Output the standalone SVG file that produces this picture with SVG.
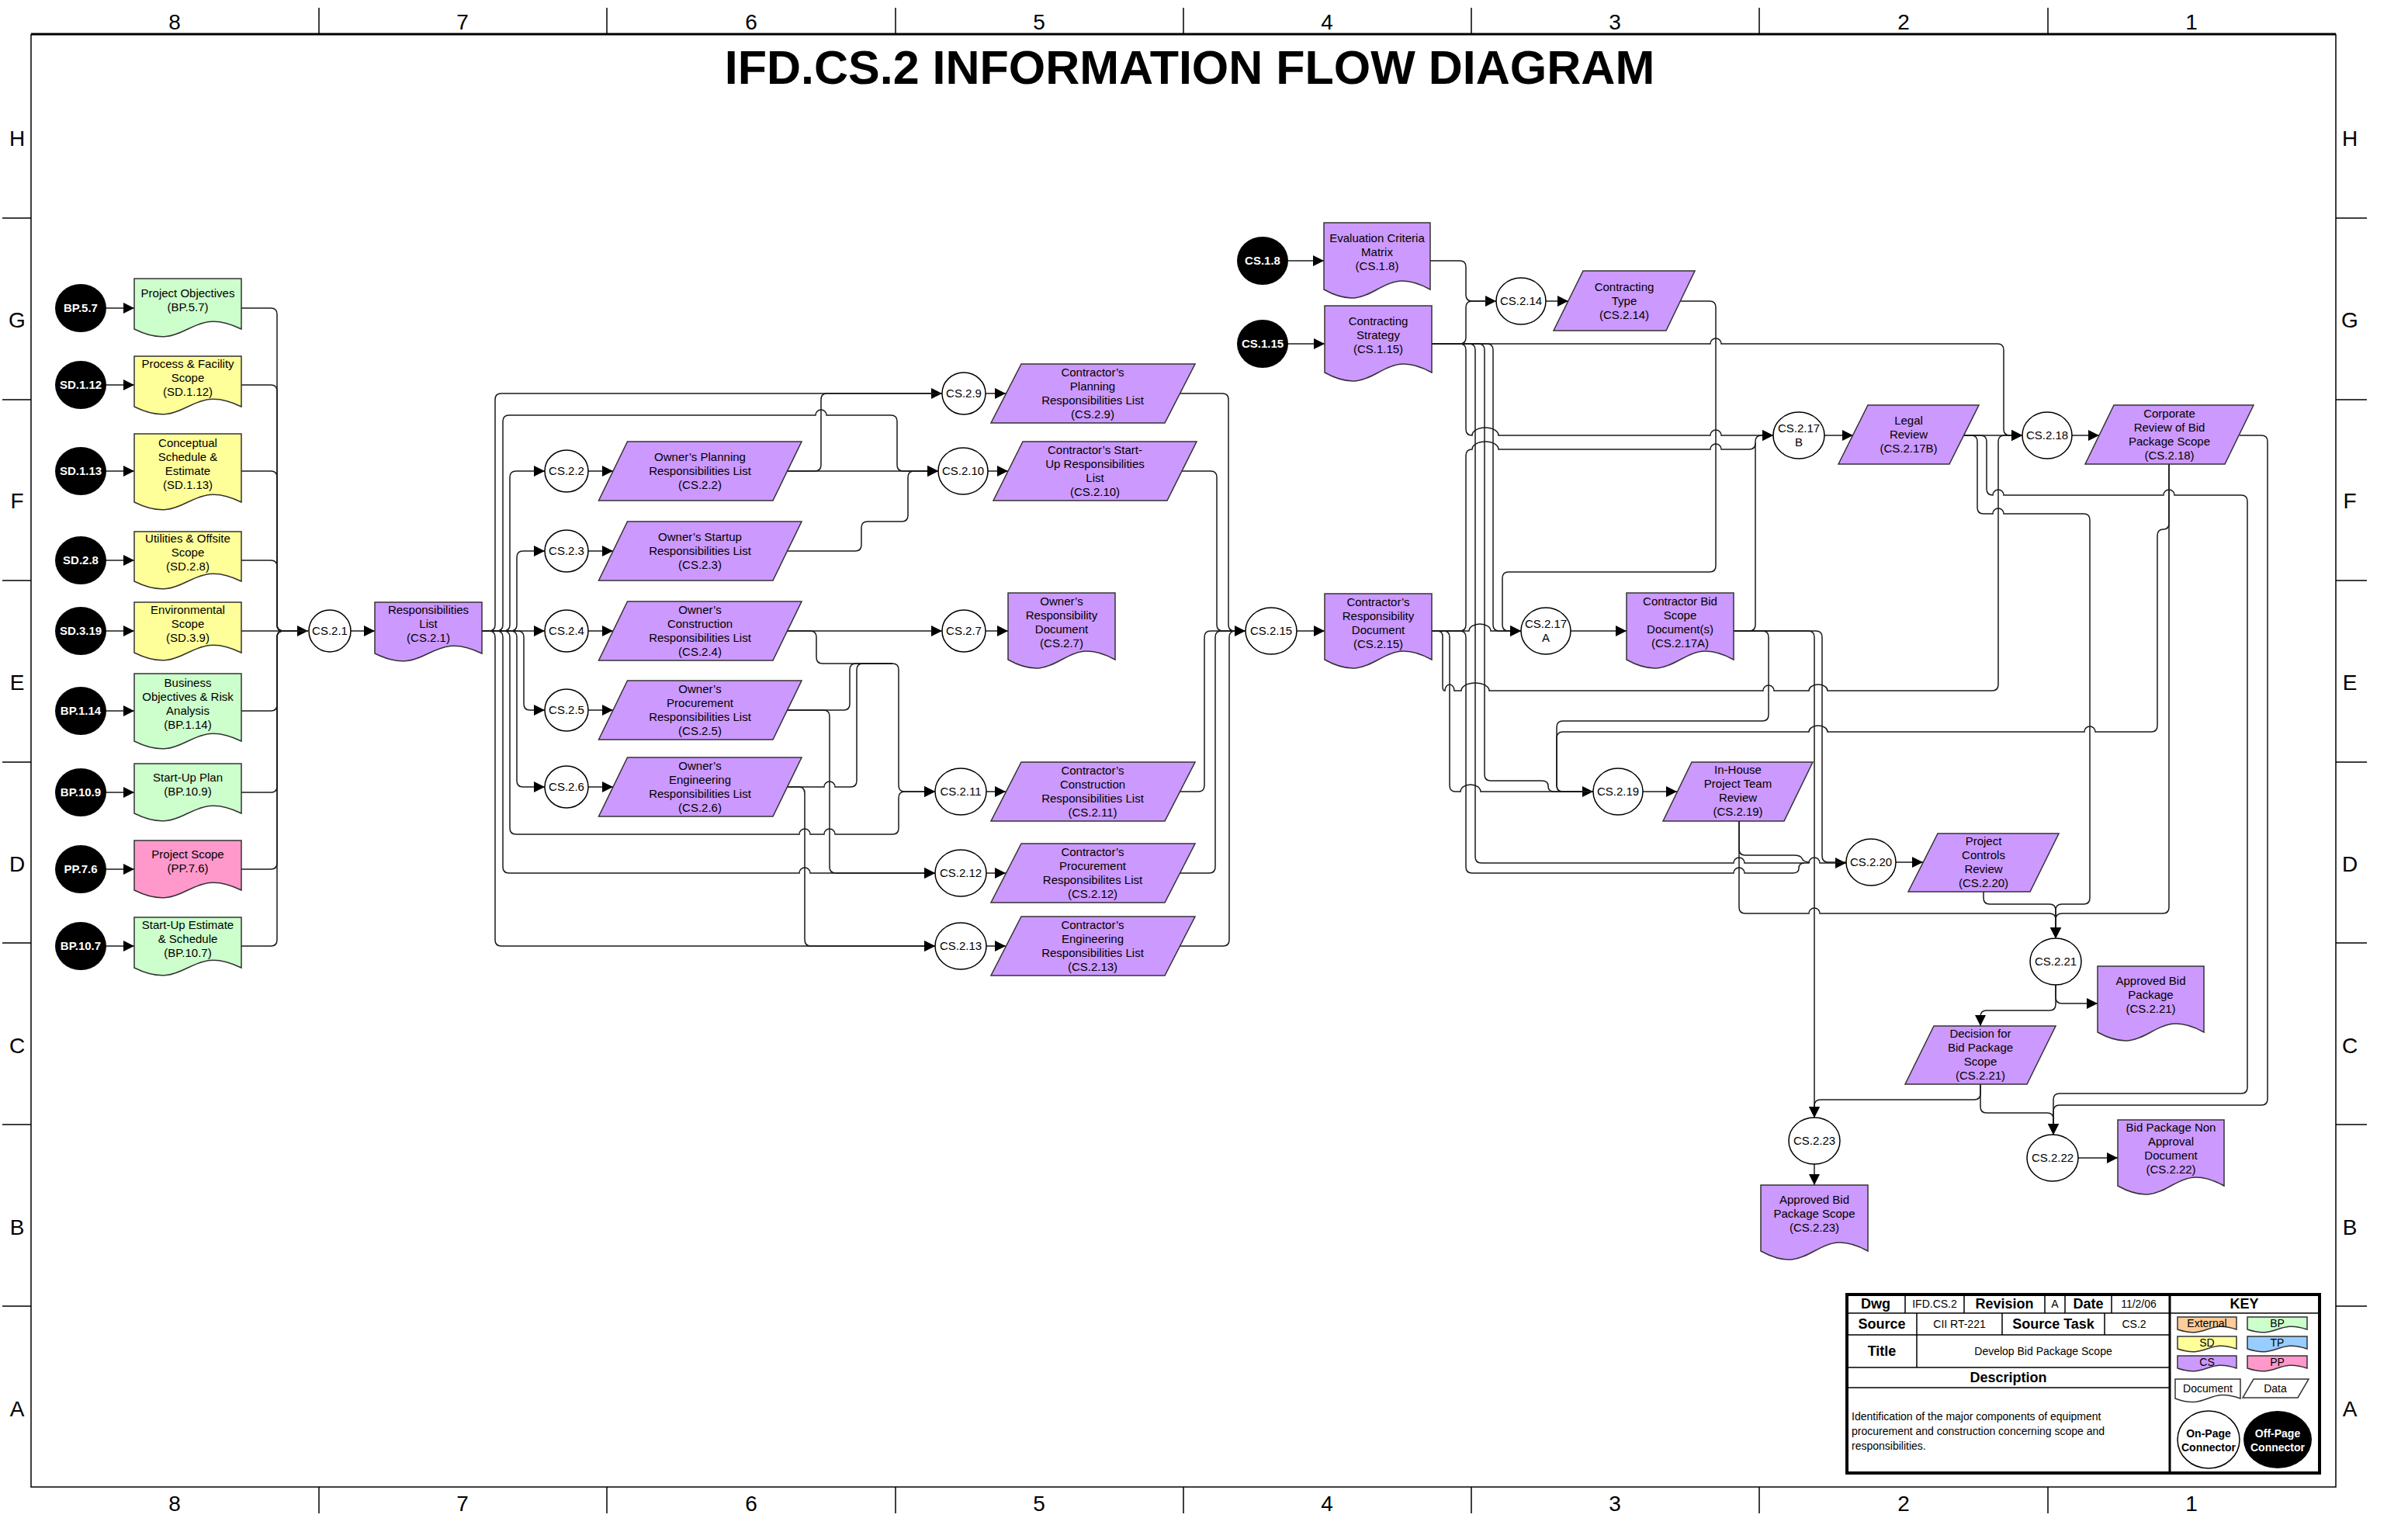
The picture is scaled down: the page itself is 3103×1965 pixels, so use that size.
<svg xmlns="http://www.w3.org/2000/svg" width="3103" height="1965" viewBox="0 0 3103 1965">
<defs>
<marker id="ah" viewBox="0 0 14 14" refX="14" refY="7" markerWidth="14" markerHeight="14" markerUnits="userSpaceOnUse" orient="auto"><path d="M0,0L14,7L0,14Z" fill="#000"/></marker>
<style>
.t{font-family:'Liberation Sans',Arial,sans-serif;font-size:15px;text-anchor:middle;fill:#000}
.tb{font-weight:bold}
.tw{fill:#fff}
.tl{text-anchor:start}
.cn{fill:#fff;stroke:#000;stroke-width:1.5}
.off{fill:#000}
.sh{stroke:#333;stroke-width:1.5}
.gr{fill:#ccffcc}.ye{fill:#ffff99}.pk{fill:#ff99cc}.pu{fill:#cc99ff}.or{fill:#ffcc99}.bl{fill:#99ccff}.wh{fill:#fff}
.ln path{fill:none;stroke:#1a1a1a;stroke-width:1.5}
.ar{marker-end:url(#ah)}
.fr{fill:none;stroke:#000;stroke-width:1.5}
.lab{font-family:'Liberation Sans',Arial,sans-serif;font-size:28px;text-anchor:middle}
</style>
</defs>
<rect width="3103" height="1965" fill="#fff"/>

<g id="frame">
<path class="fr" d="M40,44V1916H3010V44"/>
<path d="M40,44H3010" stroke="#000" stroke-width="3"/>
<path class="fr" d="M411,10V44M782,10V44M1154,10V44M1525,10V44M1896,10V44M2267,10V44M2639,10V44M411,1916V1950M782,1916V1950M1154,1916V1950M1525,1916V1950M1896,1916V1950M2267,1916V1950M2639,1916V1950M3,281H40M3,515H40M3,748H40M3,982H40M3,1215H40M3,1449H40M3,1683H40M3010,281H3050M3010,515H3050M3010,748H3050M3010,982H3050M3010,1215H3050M3010,1449H3050M3010,1683H3050"/>
<text class="lab" x="225" y="38">8</text><text class="lab" x="596" y="38">7</text><text class="lab" x="968" y="38">6</text><text class="lab" x="1339" y="38">5</text><text class="lab" x="1710" y="38">4</text><text class="lab" x="2081" y="38">3</text><text class="lab" x="2453" y="38">2</text><text class="lab" x="2824" y="38">1</text>
<text class="lab" x="225" y="1947">8</text><text class="lab" x="596" y="1947">7</text><text class="lab" x="968" y="1947">6</text><text class="lab" x="1339" y="1947">5</text><text class="lab" x="1710" y="1947">4</text><text class="lab" x="2081" y="1947">3</text><text class="lab" x="2453" y="1947">2</text><text class="lab" x="2824" y="1947">1</text>
<text class="lab" x="22" y="188">H</text><text class="lab" x="22" y="422">G</text><text class="lab" x="22" y="655">F</text><text class="lab" x="22" y="889">E</text><text class="lab" x="22" y="1123">D</text><text class="lab" x="22" y="1357">C</text><text class="lab" x="22" y="1591">B</text><text class="lab" x="22" y="1825">A</text>
<text class="lab" x="3028" y="188">H</text><text class="lab" x="3028" y="422">G</text><text class="lab" x="3028" y="655">F</text><text class="lab" x="3028" y="889">E</text><text class="lab" x="3028" y="1123">D</text><text class="lab" x="3028" y="1357">C</text><text class="lab" x="3028" y="1591">B</text><text class="lab" x="3028" y="1825">A</text>
<text x="1533" y="108" font-family="'Liberation Sans',Arial,sans-serif" font-size="61" font-weight="bold" text-anchor="middle">IFD.CS.2 INFORMATION FLOW DIAGRAM</text>
</g>

<g id="connectors" class="ln">
<path class="ar" d="M137,397H173"/><path class="ar" d="M137,496H173"/><path class="ar" d="M137,607H173"/><path class="ar" d="M137,722H173"/><path class="ar" d="M137,813H173"/><path class="ar" d="M137,916H173"/><path class="ar" d="M137,1021H173"/><path class="ar" d="M137,1120H173"/><path class="ar" d="M137,1219H173"/>
<path d="M311,397H349Q357,397 357,405V805Q357,813 365,813H397"/>
<path d="M311,496H349Q357,496 357,504V805Q357,813 365,813H397"/>
<path d="M311,607H349Q357,607 357,615V805Q357,813 365,813H397"/>
<path d="M311,722H349Q357,722 357,730V805Q357,813 365,813H397"/>
<path class="ar" d="M311,813H397"/>
<path d="M311,916H349Q357,916 357,908V821Q357,813 365,813H397"/>
<path d="M311,1021H349Q357,1021 357,1013V821Q357,813 365,813H397"/>
<path d="M311,1120H349Q357,1120 357,1112V821Q357,813 365,813H397"/>
<path d="M311,1219H349Q357,1219 357,1211V821Q357,813 365,813H397"/>
<path class="ar" d="M452,813H483"/>
<path class="ar" d="M621,813H630Q638,813 638,805V515Q638,507 646,507H1214"/>
<path class="ar" d="M621,813H640Q648,813 648,805V543Q648,535 656,535H1051A7,7 0 0 1 1065,535H1148Q1156,535 1156,543V599Q1156,607 1164,607H1209"/>
<path class="ar" d="M621,813H649Q657,813 657,805V615Q657,607 665,607H702"/>
<path class="ar" d="M621,813H658Q666,813 666,805V718Q666,710 674,710H702"/>
<path class="ar" d="M621,813H702"/>
<path class="ar" d="M621,813H667Q675,813 675,821V907Q675,915 683,915H702"/>
<path class="ar" d="M621,813H658Q666,813 666,821V1006Q666,1014 674,1014H702"/>
<path class="ar" d="M621,813H649Q657,813 657,821V1067Q657,1075 665,1075H1030A7,7 0 0 1 1044,1075H1062A7,7 0 0 1 1076,1075H1150Q1158,1075 1158,1067V1028Q1158,1020 1166,1020H1205"/>
<path class="ar" d="M621,813H640Q648,813 648,821V1117Q648,1125 656,1125H1030A7,7 0 0 1 1044,1125H1205"/>
<path class="ar" d="M621,813H630Q638,813 638,821V1211Q638,1219 646,1219H1205"/>
<path class="ar" d="M758,607H790"/><path class="ar" d="M758,710H790"/><path class="ar" d="M758,813H790"/><path class="ar" d="M758,915H790"/><path class="ar" d="M758,1014H790"/>
<path d="M1014,607H1050Q1058,607 1058,599V515Q1058,507 1066,507H1214"/>
<path class="ar" d="M1014,607H1209"/>
<path class="ar" d="M1014,710H1102Q1110,710 1110,702V680Q1110,672 1118,672H1162Q1170,672 1170,664V615Q1170,607 1178,607H1209"/>
<path class="ar" d="M1014,813H1214"/>
<path class="ar" d="M1014,813H1044Q1052,813 1052,821V847Q1052,855 1060,855H1150Q1158,855 1158,863V1012Q1158,1020 1166,1020H1205"/>
<path class="ar" d="M1014,915H1061Q1069,915 1069,923V1117Q1069,1125 1077,1125H1205"/>
<path d="M1014,915H1087Q1095,915 1095,907V863Q1095,855 1103,855H1150"/>
<path class="ar" d="M1014,1014H1029Q1037,1014 1037,1022V1211Q1037,1219 1045,1219H1205"/>
<path d="M1014,1014H1062A7,7 0 0 1 1076,1014H1096Q1104,1014 1104,1006V863Q1104,855 1112,855H1150"/>
<path class="ar" d="M1270,507H1296"/><path class="ar" d="M1273,607H1299"/><path class="ar" d="M1270,813H1299"/><path class="ar" d="M1271,1020H1296"/><path class="ar" d="M1271,1125H1296"/><path class="ar" d="M1271,1219H1296"/>
<path d="M1520,507H1575Q1583,507 1583,515V805Q1583,813 1591,813H1605"/>
<path d="M1523,607H1560Q1568,607 1568,615V805Q1568,813 1576,813H1605"/>
<path d="M1520,1020H1544Q1552,1020 1552,1012V821Q1552,813 1560,813H1605"/>
<path d="M1520,1125H1558Q1566,1125 1566,1117V821Q1566,813 1574,813H1605"/>
<path class="ar" d="M1520,1219H1576Q1584,1219 1584,1211V821Q1584,813 1592,813H1605"/>
<path class="ar" d="M1671,813H1707"/>
<path class="ar" d="M1660,336H1706"/>
<path class="ar" d="M1660,443H1707"/>
<path class="ar" d="M1843,336H1881Q1889,336 1889,344V380Q1889,388 1897,388H1928"/>
<path d="M1845,443H1881Q1889,443 1889,435V396Q1889,388 1897,388H1928"/>
<path class="ar" d="M1992,388H2021"/>
<path class="ar" d="M2165,388H2203Q2211,388 2211,396V729Q2211,737 2203,737H1944Q1936,737 1936,745V805Q1936,813 1944,813H1960"/>
<path d="M1845,443H1916Q1924,443 1924,451V805Q1924,813 1932,813H1960"/>
<path class="ar" d="M1845,443H1905Q1913,443 1913,451V998Q1913,1006 1921,1006H1987Q1995,1006 1995,1013Q1995,1020 2003,1020H2053"/>
<path class="ar" d="M1845,443H1881Q1889,443 1889,451V553Q1889,561 1897,561A17,10 0 0 1 1931,561H2204A7,7 0 0 1 2218,561H2285"/>
<path class="ar" d="M1845,443H2204A7,7 0 0 1 2218,443H2574Q2582,443 2582,451V553Q2582,561 2590,561H2606"/>
<path class="ar" d="M1845,443H1893Q1901,443 1901,451V1104Q1901,1112 1909,1112H2234A7,7 0 0 1 2248,1112H2331A7,7 0 0 1 2345,1112H2379"/>
<path class="ar" d="M1845,813H1893A14,9 0 0 1 1921,813H1960"/>
<path d="M1845,813H1881Q1889,813 1889,805V587Q1889,579 1897,579A17,10 0 0 1 1931,579H2204A7,7 0 0 1 2218,579H2254Q2262,579 2262,571"/>
<path d="M1845,813H1881Q1889,813 1889,821V1117Q1889,1125 1897,1125H2234A7,7 0 0 1 2248,1125H2310Q2318,1125 2318,1119Q2318,1112 2325,1112"/>
<path d="M1845,813H1860Q1868,813 1868,821V1012Q1868,1020 1876,1020H1882A13,9 0 0 1 1908,1020H2053"/>
<path class="ar" d="M1845,813H1852Q1859,813 1859,820V885Q1859,890 1862,890A6,8 0 0 1 1874,890H1883A18,10 0 0 1 1919,890H2272A7,7 0 0 1 2286,890H2331A12,8 0 0 1 2355,890H2567Q2575,890 2575,882V569Q2575,561 2583,561H2606"/>
<path class="ar" d="M2024,813H2096"/>
<path class="ar" d="M2234,813H2254Q2262,813 2262,805V569Q2262,561 2270,561H2285"/>
<path d="M2234,813H2271Q2279,813 2279,821V921Q2279,929 2271,929H2014Q2006,929 2006,937V1012Q2006,1020 2014,1020H2053"/>
<path class="ar" d="M2234,813H2330Q2338,813 2338,821V1440"/>
<path d="M2234,813H2340Q2348,813 2348,821V1103Q2348,1111 2356,1111H2379"/>
<path class="ar" d="M2351,561H2388"/>
<path class="ar" d="M2531,561H2606"/>
<path class="ar" d="M2531,561H2552Q2560,561 2560,569V630Q2560,638 2568,638A7,7 0 0 1 2582,638H2788A7,7 0 0 1 2802,638H2888Q2896,638 2896,646V1401Q2896,1409 2888,1409H2654Q2646,1409 2646,1417V1462"/>
<path class="ar" d="M2531,561H2540Q2548,561 2548,569V654Q2548,662 2556,662H2568A7,7 0 0 1 2582,662H2685Q2693,662 2693,670V1157Q2693,1165 2685,1165H2657Q2649,1165 2649,1173V1209"/>
<path class="ar" d="M2670,561H2705"/>
<path class="ar" d="M2886,561H2914Q2922,561 2922,569V1416Q2922,1424 2914,1424H2654Q2646,1424 2646,1432V1462"/>
<path class="ar" d="M2795,598V1169Q2795,1177 2787,1177H2657Q2649,1177 2649,1185V1209"/>
<path d="M2795,598V674Q2795,682 2788,682Q2780,682 2780,690V935Q2780,943 2772,943H2700A7,7 0 0 0 2686,943H2355A12,8 0 0 0 2331,943H2014Q2006,943 2006,951V1012Q2006,1020 2014,1020H2053"/>
<path class="ar" d="M2117,1020H2161"/>
<path d="M2241,1058V1094Q2241,1102 2249,1102H2312Q2320,1102 2322,1106Q2324,1111 2332,1111"/>
<path class="ar" d="M2241,1058V1169Q2241,1177 2249,1177H2331A7,7 0 0 1 2345,1177H2641Q2649,1177 2649,1185V1209"/>
<path class="ar" d="M2443,1111H2478"/>
<path class="ar" d="M2556,1149V1157Q2556,1165 2564,1165H2641Q2649,1165 2649,1173V1209"/>
<path class="ar" d="M2649,1269V1285Q2649,1293 2657,1293H2703"/>
<path class="ar" d="M2649,1269V1294Q2649,1302 2641,1302H2560Q2552,1302 2552,1310V1322"/>
<path class="ar" d="M2552,1397V1409Q2552,1417 2544,1417H2346Q2338,1417 2338,1425V1440"/>
<path class="ar" d="M2552,1397V1426Q2552,1434 2560,1434H2638Q2646,1434 2646,1442V1462"/>
<path class="ar" d="M2338,1500V1527"/>
<path class="ar" d="M2678,1492H2729"/>
</g>

<g id="nodes">
<g id="off-BP.5.7"><ellipse class="off" cx="104" cy="397" rx="33" ry="31"/><text class="t tb tw" x="104" y="402">BP.5.7</text></g>
<g id="doc-BP.5.7"><path class="sh gr" d="M173,359H311V424C242,390 242,458 173,424Z"/><text class="t"><tspan x="242" y="383">Project Objectives</tspan><tspan x="242" y="401">(BP.5.7)</tspan></text></g>
<g id="off-SD.1.12"><ellipse class="off" cx="104" cy="496" rx="33" ry="31"/><text class="t tb tw" x="104" y="501">SD.1.12</text></g>
<g id="doc-SD.1.12"><path class="sh ye" d="M173,459H311V524C242,490 242,558 173,524Z"/><text class="t"><tspan x="242" y="474">Process &amp; Facility</tspan><tspan x="242" y="492">Scope</tspan><tspan x="242" y="510">(SD.1.12)</tspan></text></g>
<g id="off-SD.1.13"><ellipse class="off" cx="104" cy="607" rx="33" ry="31"/><text class="t tb tw" x="104" y="612">SD.1.13</text></g>
<g id="doc-SD.1.13"><path class="sh ye" d="M173,559H311V647C242,613 242,681 173,647Z"/><text class="t"><tspan x="242" y="576">Conceptual</tspan><tspan x="242" y="594">Schedule &amp;</tspan><tspan x="242" y="612">Estimate</tspan><tspan x="242" y="630">(SD.1.13)</tspan></text></g>
<g id="off-SD.2.8"><ellipse class="off" cx="104" cy="722" rx="33" ry="31"/><text class="t tb tw" x="104" y="727">SD.2.8</text></g>
<g id="doc-SD.2.8"><path class="sh ye" d="M173,685H311V749C242,715 242,783 173,749Z"/><text class="t"><tspan x="242" y="699">Utilities &amp; Offsite</tspan><tspan x="242" y="717">Scope</tspan><tspan x="242" y="735">(SD.2.8)</tspan></text></g>
<g id="off-SD.3.19"><ellipse class="off" cx="104" cy="813" rx="33" ry="31"/><text class="t tb tw" x="104" y="818">SD.3.19</text></g>
<g id="doc-SD.3.9"><path class="sh ye" d="M173,776H311V841C242,807 242,875 173,841Z"/><text class="t"><tspan x="242" y="791">Environmental</tspan><tspan x="242" y="809">Scope</tspan><tspan x="242" y="827">(SD.3.9)</tspan></text></g>
<g id="off-BP.1.14"><ellipse class="off" cx="104" cy="916" rx="33" ry="31"/><text class="t tb tw" x="104" y="921">BP.1.14</text></g>
<g id="doc-BP.1.14"><path class="sh gr" d="M173,868H311V955C242,921 242,989 173,955Z"/><text class="t"><tspan x="242" y="885">Business</tspan><tspan x="242" y="903">Objectives &amp; Risk</tspan><tspan x="242" y="921">Analysis</tspan><tspan x="242" y="939">(BP.1.14)</tspan></text></g>
<g id="off-BP.10.9"><ellipse class="off" cx="104" cy="1021" rx="33" ry="31"/><text class="t tb tw" x="104" y="1026">BP.10.9</text></g>
<g id="doc-BP.10.9"><path class="sh gr" d="M173,984H311V1048C242,1014 242,1082 173,1048Z"/><text class="t"><tspan x="242" y="1007">Start-Up Plan</tspan><tspan x="242" y="1025">(BP.10.9)</tspan></text></g>
<g id="off-PP.7.6"><ellipse class="off" cx="104" cy="1120" rx="33" ry="31"/><text class="t tb tw" x="104" y="1125">PP.7.6</text></g>
<g id="doc-PP.7.6"><path class="sh pk" d="M173,1083H311V1147C242,1113 242,1181 173,1147Z"/><text class="t"><tspan x="242" y="1106">Project Scope</tspan><tspan x="242" y="1124">(PP.7.6)</tspan></text></g>
<g id="off-BP.10.7"><ellipse class="off" cx="104" cy="1219" rx="33" ry="31"/><text class="t tb tw" x="104" y="1224">BP.10.7</text></g>
<g id="doc-BP.10.7"><path class="sh gr" d="M173,1182H311V1247C242,1213 242,1281 173,1247Z"/><text class="t"><tspan x="242" y="1197">Start-Up Estimate</tspan><tspan x="242" y="1215">&amp; Schedule</tspan><tspan x="242" y="1233">(BP.10.7)</tspan></text></g>

<g id="c-CS.2.1"><ellipse class="cn" cx="425" cy="813" rx="27" ry="27"/><text class="t" x="425" y="818">CS.2.1</text></g>
<g id="doc-CS.2.1"><path class="sh pu" d="M483,776H621V842C552,808 552,876 483,842Z"/><text class="t"><tspan x="552" y="791">Responsibilities</tspan><tspan x="552" y="809">List</tspan><tspan x="552" y="827">(CS.2.1)</tspan></text></g>

<g id="c-CS.2.2"><ellipse class="cn" cx="730" cy="607" rx="28" ry="27"/><text class="t" x="730" y="612">CS.2.2</text></g>
<g id="c-CS.2.3"><ellipse class="cn" cx="730" cy="710" rx="28" ry="27"/><text class="t" x="730" y="715">CS.2.3</text></g>
<g id="c-CS.2.4"><ellipse class="cn" cx="730" cy="813" rx="28" ry="27"/><text class="t" x="730" y="818">CS.2.4</text></g>
<g id="c-CS.2.5"><ellipse class="cn" cx="730" cy="915" rx="28" ry="27"/><text class="t" x="730" y="920">CS.2.5</text></g>
<g id="c-CS.2.6"><ellipse class="cn" cx="730" cy="1014" rx="28" ry="27"/><text class="t" x="730" y="1019">CS.2.6</text></g>
<g id="d-CS.2.2"><path class="sh pu" d="M808.5,569H1033L996,645H771.5Z"/><text class="t"><tspan x="902" y="594">Owner’s Planning</tspan><tspan x="902" y="612">Responsibilities List</tspan><tspan x="902" y="630">(CS.2.2)</tspan></text></g>
<g id="d-CS.2.3"><path class="sh pu" d="M808.5,672H1033L996,748H771.5Z"/><text class="t"><tspan x="902" y="697">Owner’s Startup</tspan><tspan x="902" y="715">Responsibilities List</tspan><tspan x="902" y="733">(CS.2.3)</tspan></text></g>
<g id="d-CS.2.4"><path class="sh pu" d="M808.5,775H1033L996,851H771.5Z"/><text class="t"><tspan x="902" y="791">Owner’s</tspan><tspan x="902" y="809">Construction</tspan><tspan x="902" y="827">Responsibilities List</tspan><tspan x="902" y="845">(CS.2.4)</tspan></text></g>
<g id="d-CS.2.5"><path class="sh pu" d="M808.5,877H1033L996,953H771.5Z"/><text class="t"><tspan x="902" y="893">Owner’s</tspan><tspan x="902" y="911">Procurement</tspan><tspan x="902" y="929">Responsibilities List</tspan><tspan x="902" y="947">(CS.2.5)</tspan></text></g>
<g id="d-CS.2.6"><path class="sh pu" d="M808.5,976H1033L996,1052H771.5Z"/><text class="t"><tspan x="902" y="992">Owner’s</tspan><tspan x="902" y="1010">Engineering</tspan><tspan x="902" y="1028">Responsibilities List</tspan><tspan x="902" y="1046">(CS.2.6)</tspan></text></g>

<g id="c-CS.2.9"><ellipse class="cn" cx="1242" cy="507" rx="28" ry="27"/><text class="t" x="1242" y="512">CS.2.9</text></g>
<g id="c-CS.2.10"><ellipse class="cn" cx="1241" cy="607" rx="32" ry="30"/><text class="t" x="1241" y="612">CS.2.10</text></g>
<g id="c-CS.2.7"><ellipse class="cn" cx="1242" cy="813" rx="28" ry="27"/><text class="t" x="1242" y="818">CS.2.7</text></g>
<g id="c-CS.2.11"><ellipse class="cn" cx="1238" cy="1020" rx="33" ry="30"/><text class="t" x="1238" y="1025">CS.2.11</text></g>
<g id="c-CS.2.12"><ellipse class="cn" cx="1238" cy="1125" rx="33" ry="30"/><text class="t" x="1238" y="1130">CS.2.12</text></g>
<g id="c-CS.2.13"><ellipse class="cn" cx="1238" cy="1219" rx="33" ry="30"/><text class="t" x="1238" y="1224">CS.2.13</text></g>
<g id="d-CS.2.9"><path class="sh pu" d="M1316,469H1540L1501,545H1277Z"/><text class="t"><tspan x="1408" y="485">Contractor’s</tspan><tspan x="1408" y="503">Planning</tspan><tspan x="1408" y="521">Responsibilities List</tspan><tspan x="1408" y="539">(CS.2.9)</tspan></text></g>
<g id="d-CS.2.10"><path class="sh pu" d="M1318,569H1542L1504,645H1280Z"/><text class="t"><tspan x="1411" y="585">Contractor’s Start-</tspan><tspan x="1411" y="603">Up Responsibilities</tspan><tspan x="1411" y="621">List</tspan><tspan x="1411" y="639">(CS.2.10)</tspan></text></g>
<g id="doc-CS.2.7"><path class="sh pu" d="M1299,764H1437V850C1368,812 1368,888 1299,850Z"/><text class="t"><tspan x="1368" y="780">Owner’s</tspan><tspan x="1368" y="798">Responsibility</tspan><tspan x="1368" y="816">Document</tspan><tspan x="1368" y="834">(CS.2.7)</tspan></text></g>
<g id="d-CS.2.11"><path class="sh pu" d="M1316,982H1540L1501,1058H1277Z"/><text class="t"><tspan x="1408" y="998">Contractor’s</tspan><tspan x="1408" y="1016">Construction</tspan><tspan x="1408" y="1034">Responsibilities List</tspan><tspan x="1408" y="1052">(CS.2.11)</tspan></text></g>
<g id="d-CS.2.12"><path class="sh pu" d="M1316,1087H1540L1501,1163H1277Z"/><text class="t"><tspan x="1408" y="1103">Contractor’s</tspan><tspan x="1408" y="1121">Procurement</tspan><tspan x="1408" y="1139">Responsibilites List</tspan><tspan x="1408" y="1157">(CS.2.12)</tspan></text></g>
<g id="d-CS.2.13"><path class="sh pu" d="M1316,1181H1540L1501,1257H1277Z"/><text class="t"><tspan x="1408" y="1197">Contractor’s</tspan><tspan x="1408" y="1215">Engineering</tspan><tspan x="1408" y="1233">Responsibilities List</tspan><tspan x="1408" y="1251">(CS.2.13)</tspan></text></g>

<g id="c-CS.2.15"><ellipse class="cn" cx="1638" cy="813" rx="33" ry="30"/><text class="t" x="1638" y="818">CS.2.15</text></g>
<g id="doc-CS.2.15"><path class="sh pu" d="M1707,765H1845V850C1776,812 1776,888 1707,850Z"/><text class="t"><tspan x="1776" y="781">Contractor’s</tspan><tspan x="1776" y="799">Responsibility</tspan><tspan x="1776" y="817">Document</tspan><tspan x="1776" y="835">(CS.2.15)</tspan></text></g>

<g id="off-CS.1.8"><ellipse class="off" cx="1627" cy="336" rx="33" ry="31"/><text class="t tb tw" x="1627" y="341">CS.1.8</text></g>
<g id="doc-CS.1.8"><path class="sh pu" d="M1706,287H1843V373C1774.5,335 1774.5,411 1706,373Z"/><text class="t"><tspan x="1774.5" y="312">Evaluation Criteria</tspan><tspan x="1774.5" y="330">Matrix</tspan><tspan x="1774.5" y="348">(CS.1.8)</tspan></text></g>
<g id="off-CS.1.15"><ellipse class="off" cx="1627" cy="443" rx="33" ry="31"/><text class="t tb tw" x="1627" y="448">CS.1.15</text></g>
<g id="doc-CS.1.15"><path class="sh pu" d="M1707,394H1845V480C1776,442 1776,518 1707,480Z"/><text class="t"><tspan x="1776" y="419">Contracting</tspan><tspan x="1776" y="437">Strategy</tspan><tspan x="1776" y="455">(CS.1.15)</tspan></text></g>
<g id="c-CS.2.14"><ellipse class="cn" cx="1960" cy="388" rx="32" ry="30"/><text class="t" x="1960" y="393">CS.2.14</text></g>
<g id="d-CS.2.14"><path class="sh pu" d="M2040,349H2184L2147,426H2002Z"/><text class="t"><tspan x="2093" y="375">Contracting</tspan><tspan x="2093" y="393">Type</tspan><tspan x="2093" y="411">(CS.2.14)</tspan></text></g>

<g id="c-CS.2.17A"><ellipse class="cn" cx="1992" cy="813" rx="32" ry="30"/><text class="t"><tspan x="1992" y="809">CS.2.17</tspan><tspan x="1992" y="827">A</tspan></text></g>
<g id="doc-CS.2.17A"><path class="sh pu" d="M2096,764H2234V850C2165,812 2165,888 2096,850Z"/><text class="t"><tspan x="2165" y="780">Contractor Bid</tspan><tspan x="2165" y="798">Scope</tspan><tspan x="2165" y="816">Document(s)</tspan><tspan x="2165" y="834">(CS.2.17A)</tspan></text></g>
<g id="c-CS.2.17B"><ellipse class="cn" cx="2318" cy="561" rx="33" ry="30"/><text class="t"><tspan x="2318" y="557">CS.2.17</tspan><tspan x="2318" y="575">B</tspan></text></g>
<g id="d-CS.2.17B"><path class="sh pu" d="M2407,522H2550L2512,598H2369Z"/><text class="t"><tspan x="2459.5" y="547">Legal</tspan><tspan x="2459.5" y="565">Review</tspan><tspan x="2459.5" y="583">(CS.2.17B)</tspan></text></g>
<g id="c-CS.2.18"><ellipse class="cn" cx="2638" cy="561" rx="32" ry="30"/><text class="t" x="2638" y="566">CS.2.18</text></g>
<g id="d-CS.2.18"><path class="sh pu" d="M2724,522H2904L2867,598H2687Z"/><text class="t"><tspan x="2795.5" y="538">Corporate</tspan><tspan x="2795.5" y="556">Review of Bid</tspan><tspan x="2795.5" y="574">Package Scope</tspan><tspan x="2795.5" y="592">(CS.2.18)</tspan></text></g>
<g id="c-CS.2.19"><ellipse class="cn" cx="2085" cy="1020" rx="32" ry="30"/><text class="t" x="2085" y="1025">CS.2.19</text></g>
<g id="d-CS.2.19"><path class="sh pu" d="M2180,982H2336L2299,1058H2143Z"/><text class="t"><tspan x="2239.5" y="997">In-House</tspan><tspan x="2239.5" y="1015">Project Team</tspan><tspan x="2239.5" y="1033">Review</tspan><tspan x="2239.5" y="1051">(CS.2.19)</tspan></text></g>
<g id="c-CS.2.20"><ellipse class="cn" cx="2411" cy="1111" rx="32" ry="30"/><text class="t" x="2411" y="1116">CS.2.20</text></g>
<g id="d-CS.2.20"><path class="sh pu" d="M2497,1074H2653L2616,1149H2459Z"/><text class="t"><tspan x="2556" y="1089">Project</tspan><tspan x="2556" y="1107">Controls</tspan><tspan x="2556" y="1125">Review</tspan><tspan x="2556" y="1143">(CS.2.20)</tspan></text></g>
<g id="c-CS.2.21"><ellipse class="cn" cx="2649" cy="1239" rx="33" ry="30"/><text class="t" x="2649" y="1244">CS.2.21</text></g>
<g id="doc-CS.2.21"><path class="sh pu" d="M2703,1245H2840V1330C2771.5,1292 2771.5,1368 2703,1330Z"/><text class="t"><tspan x="2771.5" y="1269">Approved Bid</tspan><tspan x="2771.5" y="1287">Package</tspan><tspan x="2771.5" y="1305">(CS.2.21)</tspan></text></g>
<g id="d-CS.2.21"><path class="sh pu" d="M2492,1322H2649L2612,1397H2455Z"/><text class="t"><tspan x="2552" y="1337">Decision for</tspan><tspan x="2552" y="1355">Bid Package</tspan><tspan x="2552" y="1373">Scope</tspan><tspan x="2552" y="1391">(CS.2.21)</tspan></text></g>
<g id="c-CS.2.23"><ellipse class="cn" cx="2338" cy="1470" rx="33" ry="30"/><text class="t" x="2338" y="1475">CS.2.23</text></g>
<g id="doc-CS.2.23"><path class="sh pu" d="M2269,1527H2407V1612C2338,1574 2338,1650 2269,1612Z"/><text class="t"><tspan x="2338" y="1551">Approved Bid</tspan><tspan x="2338" y="1569">Package Scope</tspan><tspan x="2338" y="1587">(CS.2.23)</tspan></text></g>
<g id="c-CS.2.22"><ellipse class="cn" cx="2645" cy="1492" rx="33" ry="30"/><text class="t" x="2645" y="1497">CS.2.22</text></g>
<g id="doc-CS.2.22"><path class="sh pu" d="M2729,1443H2866V1528C2797.5,1490 2797.5,1566 2729,1528Z"/><text class="t"><tspan x="2797.5" y="1458">Bid Package Non</tspan><tspan x="2797.5" y="1476">Approval</tspan><tspan x="2797.5" y="1494">Document</tspan><tspan x="2797.5" y="1512">(CS.2.22)</tspan></text></g>
</g>

<g id="titleblock">
<rect x="2380" y="1668" width="609" height="230" fill="#fff" stroke="#000" stroke-width="4"/>
<path d="M2796,1668V1898" stroke="#000" stroke-width="3"/>
<path class="fr" d="M2380,1692H2989M2380,1720H2796M2380,1762H2796M2380,1788H2796M2455,1668V1692M2531,1668V1692M2635,1668V1692M2661,1668V1692M2721,1668V1692M2470,1692V1762M2580,1692V1720M2712,1692V1720"/>
<text class="t tb" style="font-size:18px" x="2417" y="1686">Dwg</text>
<text class="t" style="font-size:14px" x="2493" y="1685">IFD.CS.2</text>
<text class="t tb" style="font-size:18px" x="2583" y="1686">Revision</text>
<text class="t" style="font-size:14px" x="2648" y="1685">A</text>
<text class="t tb" style="font-size:18px" x="2691" y="1686">Date</text>
<text class="t" style="font-size:14px" x="2756" y="1685">11/2/06</text>
<text class="t tb" style="font-size:18px" x="2892" y="1686">KEY</text>
<text class="t tb" style="font-size:18px" x="2425" y="1712">Source</text>
<text class="t" style="font-size:14px" x="2525" y="1711">CII RT-221</text>
<text class="t tb" style="font-size:18px" x="2646" y="1712">Source Task</text>
<text class="t" style="font-size:14px" x="2750" y="1711">CS.2</text>
<text class="t tb" style="font-size:18px" x="2425" y="1747">Title</text>
<text class="t" style="font-size:14px" x="2633" y="1746">Develop Bid Package Scope</text>
<text class="t tb" style="font-size:18px" x="2588" y="1781">Description</text>
<text class="t tl" style="font-size:14px"><tspan x="2386" y="1830">Identification of the major components of equipment</tspan><tspan x="2386" y="1849">procurement and construction concerning scope and</tspan><tspan x="2386" y="1868">responsibilities.</tspan></text>
<g id="key-external"><path class="sh or" d="M2806,1697H2882V1713C2844,1700 2844,1726 2806,1713Z"/><text class="t" style="font-size:14px" x="2844" y="1710">External</text></g>
<g id="key-bp"><path class="sh gr" d="M2896,1697H2973V1713C2934.5,1700 2934.5,1726 2896,1713Z"/><text class="t" style="font-size:14px" x="2934.5" y="1710">BP</text></g>
<g id="key-sd"><path class="sh ye" d="M2806,1722H2882V1738C2844,1725 2844,1751 2806,1738Z"/><text class="t" style="font-size:14px" x="2844" y="1735">SD</text></g>
<g id="key-tp"><path class="sh bl" d="M2896,1722H2973V1738C2934.5,1725 2934.5,1751 2896,1738Z"/><text class="t" style="font-size:14px" x="2934.5" y="1735">TP</text></g>
<g id="key-cs"><path class="sh pu" d="M2806,1747H2882V1763C2844,1750 2844,1776 2806,1763Z"/><text class="t" style="font-size:14px" x="2844" y="1760">CS</text></g>
<g id="key-pp"><path class="sh pk" d="M2896,1747H2973V1763C2934.5,1750 2934.5,1776 2896,1763Z"/><text class="t" style="font-size:14px" x="2934.5" y="1760">PP</text></g>
<g id="key-doc"><path class="sh wh" d="M2803,1777H2887V1802C2845,1786 2845,1818 2803,1802Z"/><text class="t" style="font-size:14px" x="2845" y="1794">Document</text></g>
<g id="key-data"><path class="sh wh" d="M2904,1777H2975L2961,1801H2890Z"/><text class="t" style="font-size:14px" x="2932" y="1794">Data</text></g>
<g id="key-onpage"><ellipse class="cn" cx="2846" cy="1855" rx="40" ry="37"/><text class="t tb" style="font-size:14px"><tspan x="2846" y="1852">On-Page</tspan><tspan x="2846" y="1870">Connector</tspan></text></g>
<g id="key-offpage"><ellipse class="off" cx="2935" cy="1855" rx="44" ry="37"/><text class="t tb tw" style="font-size:14px"><tspan x="2935" y="1852">Off-Page</tspan><tspan x="2935" y="1870">Connector</tspan></text></g>
</g>
</svg>
